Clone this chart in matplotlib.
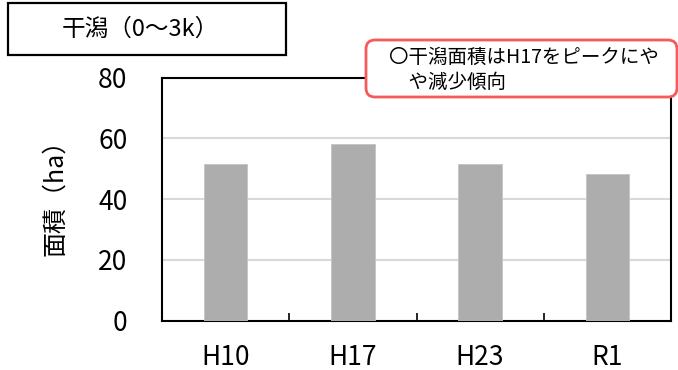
import numpy as np
import matplotlib
matplotlib.use("Agg")
import matplotlib.pyplot as plt
from matplotlib.patches import Rectangle, FancyBboxPatch

plt.rcParams['font.family'] = ['Noto Sans CJK JP', 'DejaVu Sans']

# data
categories = ["H10", "H17", "H23", "R1"]
area_ha = [51.6, 58.1, 51.4, 48.3]
y_ticks = [0, 20, 40, 60, 80]

title_text = "干潟（0～3k）"
note_lines = ["〇干潟面積はH17をピークにや", "　や減少傾向"]
y_label = "面積（ha）"

W, H, DPI = 678, 370, 100
fig = plt.figure(figsize=(W / DPI, H / DPI), dpi=DPI)


def px(x, y):
    # pixel (from top-left) -> inches for dpi_scale_trans
    return x / DPI, (H - y) / DPI


# axes box in pixels: left 162, right 671, top 77.5, bottom 320.7
ax = fig.add_axes([162 / W, 1 - 320.7 / H, (671 - 162) / W, (320.7 - 77.5) / H])

x = np.arange(len(categories))
ax.bar(x, area_ha, width=0.34, color="#ADADAD", edgecolor="#C4C4C4",
       linewidth=0.6, zorder=3)

ax.set_xlim(-0.5, len(categories) - 0.5)
ax.set_ylim(0, 80)
ax.set_yticks(y_ticks)
ax.set_xticks(x)
ax.set_xticklabels(categories)
ax.set_xticks(x[:-1] + 0.5, minor=True)

ax.yaxis.grid(True, color="#D9D9D9", linewidth=1.5, zorder=0)
ax.set_axisbelow(True)

for s in ax.spines.values():
    s.set_color("black")
    s.set_linewidth(1.5)

ax.tick_params(axis="y", length=0, pad=25, labelsize=19)
ax.tick_params(axis="x", which="major", length=0, pad=17, labelsize=19)
ax.tick_params(axis="x", which="minor", direction="in", length=6, width=1.2,
               color="black")

ax.set_ylabel(y_label, fontsize=18, labelpad=8)
ax.yaxis.set_label_coords(-(162 - 68) / (671 - 162), 0.53)

# title box at top-left
x0, y0 = px(8, 55)
x1, y1 = px(286, 3)
fig.patches.append(Rectangle((x0, y0), x1 - x0, y1 - y0, transform=fig.dpi_scale_trans,
                             facecolor="white", edgecolor="black", linewidth=1.6,
                             zorder=5))
tx, ty = px(140, 29)
fig.text(tx, ty, title_text, transform=fig.dpi_scale_trans, ha="center", va="center",
         fontsize=17, zorder=6)

# note box, rounded red border, drawn over the plot frame
bx0, by0 = px(366, 97)
bx1, by1 = px(677, 40)
fig.patches.append(FancyBboxPatch((bx0, by0), bx1 - bx0, by1 - by0,
                                  boxstyle="round,pad=0,rounding_size=0.09",
                                  transform=fig.dpi_scale_trans,
                                  facecolor="white", edgecolor="#F65A5A",
                                  linewidth=2, zorder=5))
nx, ny = px(389, 57)
fig.text(nx, ny, note_lines[0], transform=fig.dpi_scale_trans, ha="left",
         va="center", fontsize=14, zorder=6)
nx, ny = px(389, 82)
fig.text(nx, ny, note_lines[1], transform=fig.dpi_scale_trans, ha="left",
         va="center", fontsize=14, zorder=6)

fig.savefig("out.png", dpi=DPI)
